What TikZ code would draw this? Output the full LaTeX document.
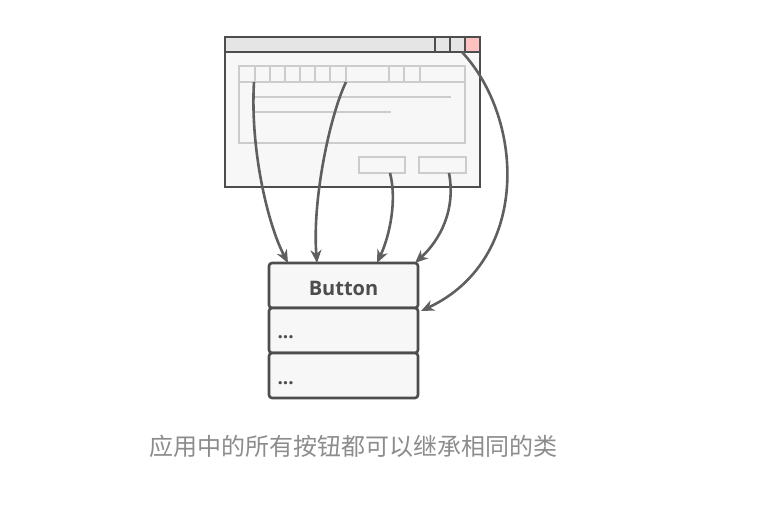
\documentclass[tikz,border=0pt]{standalone}
\usepackage{fontspec}
\setmainfont{Open Sans}
\newfontfamily\cjk{Noto Sans CJK SC}
\usetikzlibrary{arrows.meta}

\definecolor{framegray}{HTML}{4D4D4D}
\definecolor{winfill}{HTML}{F7F7F7}
\definecolor{titlefill}{HTML}{E5E5E5}
\definecolor{closefill}{HTML}{FFC0C0}
\definecolor{widgetgray}{HTML}{CCCCCC}
\definecolor{arrowgray}{HTML}{5F5F5F}
\definecolor{captiongray}{HTML}{8C8C8C}

\begin{document}
\begin{tikzpicture}[x=1pt, y=-1pt,
    frame/.style={draw=framegray, line width=2.6pt},
    widget/.style={draw=widgetgray, line width=2.6pt},
    classpart/.style={frame, fill=winfill, rounded corners=3pt, minimum width=149pt, minimum height=45pt, inner sep=0pt, outer sep=0pt, anchor=north},
    dots/.style={anchor=west, text=framegray, font=\bfseries\fontsize{19pt}{20pt}\selectfont},
    link/.style={draw=arrowgray, line width=2.6pt, -{Stealth[length=13pt, width=11pt, inset=4pt]}}]

    \useasboundingbox (0,0) rectangle (776,511);

    % window
    \draw [frame, fill=winfill] (225,37) rectangle (480,187);
    \draw [frame, fill=titlefill] (225,37) rectangle (480,52);
    \foreach \x in {435,450}
        \draw [frame, fill=titlefill] (\x,37) rectangle +(15,15);
    \draw [frame, fill=closefill] (465,37) rectangle (480,52);

    % toolbar and text area
    \draw [widget] (239,66) rectangle (465,143);
    \draw [widget] (239,82) -- (465,82);
    \foreach \x in {255,270,...,330,346,389,404,420}
        \draw [widget] (\x,66) -- (\x,82);
    \draw [widget] (255,97) -- (451,97);
    \draw [widget] (255,112) -- (391,112);

    % buttons
    \draw [widget] (359,157) rectangle (405,173);
    \draw [widget] (419,157) rectangle (466,173);

    \coordinate (tool a) at (254,82);
    \coordinate (tool b) at (346,82);
    \coordinate (ok btn) at (390,173);
    \coordinate (cancel btn) at (449,173);
    \coordinate (title btn) at (462,52);

    % class box
    \node [classpart] (btn title) at (343.5,263) {};
    \node [classpart] (btn fields) at (btn title.south) {};
    \node [classpart] (btn methods) at (btn fields.south) {};
    \node [font=\bfseries\fontsize{20pt}{22pt}\selectfont, text=framegray] (class name) at ([yshift=-2.5pt]btn title.center) {Button};
    \node [dots] (fields dots) at (274,337) {...};
    \node [dots] (methods dots) at (274,383) {...};

    % arrows
    \draw [link] (tool a) .. controls (250,150) and (268,225) .. ([xshift=19pt]btn title.north west);
    \draw [link] (tool b) .. controls (330,115) and (312,200) .. ([xshift=48pt]btn title.north west);
    \draw [link] (ok btn) .. controls (397,200) and (390,235) .. ([xshift=108pt]btn title.north west);
    \draw [link] (cancel btn) .. controls (456,210) and (440,240) .. ([xshift=-3pt]btn title.north east);
    \draw [link] (title btn) .. controls (525,120) and (530,260) .. ([shift={(3pt,-3pt)}]btn title.south east);

    % caption
    \node [anchor=west, text=captiongray, font=\cjk\fontsize{24pt}{28pt}\selectfont] (caption) at (146,446) {应用中的所有按钮都可以继承相同的类};
\end{tikzpicture}
\end{document}
